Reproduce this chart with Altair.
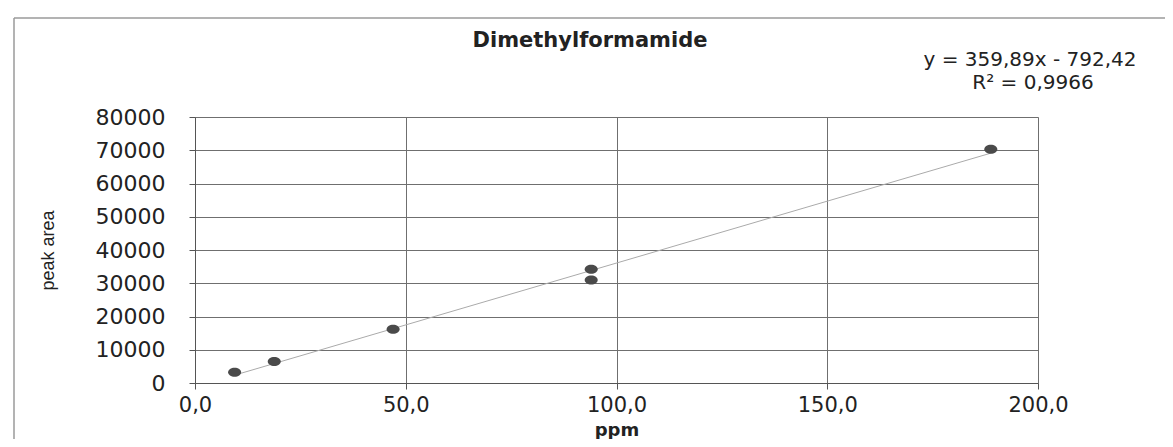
import altair as alt
import pandas as pd

ppm = [9.4, 18.8, 47.0, 94.0, 94.0, 188.8]
peak_area = [3200, 6500, 16200, 34200, 31000, 70300]
title_text = "Dimethylformamide"
equation_line = "y = 359,89x - 792,42"
r2_line = "R² = 0,9966"

df = pd.DataFrame({"ppm": ppm, "area": peak_area})

W, H = 843, 266

x_scale = alt.Scale(domain=[0, 200], nice=False, zero=True)
y_scale = alt.Scale(domain=[0, 80000], nice=False)

x_axis = alt.Axis(
    title="ppm", values=[0, 50, 100, 150, 200],
    labelExpr="replace(format(datum.value, '.1f'), '.', ',')",
    labelFont="DejaVu Sans", labelFontSize=21, labelColor="#222",
    labelFlush=False, labelPadding=5, tickSize=6, tickColor="#555",
    domainColor="#555",
    grid=True, gridColor="#6f6f6f", gridWidth=1,
    titleFont="DejaVu Sans", titleFontSize=18, titleFontWeight="bold",
    titleColor="#222", titlePadding=6,
)
y_axis = alt.Axis(
    title="peak area", values=list(range(0, 80001, 10000)), format="d",
    labelFont="DejaVu Sans", labelFontSize=22, labelColor="#222",
    labelPadding=24, tickSize=6, tickColor="#555", domainColor="#555",
    grid=True, gridColor="#6f6f6f", gridWidth=1,
    titleFont="Liberation Sans", titleFontSize=18, titleFontWeight="normal",
    titleColor="#222", titleX=-147, titleY=133, titleAngle=-90,
    titleBaseline="middle", titleAlign="center",
)

base = alt.Chart(df)

trend = base.transform_regression("ppm", "area").mark_line(
    color="#aaaaaa", strokeWidth=1
).encode(
    x=alt.X("ppm:Q", scale=x_scale, axis=x_axis),
    y=alt.Y("area:Q", scale=y_scale, axis=y_axis),
)

ellipse = "M-1.3,0 A1.3,0.9 0 1,1 1.3,0 A1.3,0.9 0 1,1 -1.3,0 Z"
points = base.mark_point(
    shape=ellipse, size=100, filled=True, color="#4a4a4a", opacity=1
).encode(
    x=alt.X("ppm:Q", scale=x_scale, axis=x_axis),
    y=alt.Y("area:Q", scale=y_scale, axis=y_axis),
)


def label(text, px, py, size, weight="normal"):
    return alt.Chart(pd.DataFrame({"t": [text]})).mark_text(
        font="DejaVu Sans", fontSize=size, fontWeight=weight, color="#222",
        align="center", baseline="middle",
    ).encode(text="t:N", x=alt.value(px), y=alt.value(py))


title_mark = label(title_text, 395, -76, 21, "bold")
eq1 = label(equation_line, 835, -57, 20)
eq2 = label(r2_line, 838, -34, 20)

# decorative outer frame of the chart (left and top edges)
frame_left = alt.Chart(pd.DataFrame({"a": [0]})).mark_rule(
    color="#9a9a9a", strokeWidth=1.5
).encode(x=alt.value(-181), y=alt.value(-99), y2=alt.value(330))
frame_top = alt.Chart(pd.DataFrame({"a": [0]})).mark_rule(
    color="#9a9a9a", strokeWidth=1.5
).encode(x=alt.value(-181), x2=alt.value(980), y=alt.value(-99))

chart = alt.layer(
    frame_left, frame_top, trend, points, title_mark, eq1, eq2
).properties(
    width=W, height=H,
    autosize="none",
    padding={"left": 187, "top": 109, "right": 127, "bottom": 56},
).configure_view(
    stroke="#666", strokeWidth=1
).configure(background="white")

chart.save("out.html", embed_options={"renderer": "svg", "actions": False})
